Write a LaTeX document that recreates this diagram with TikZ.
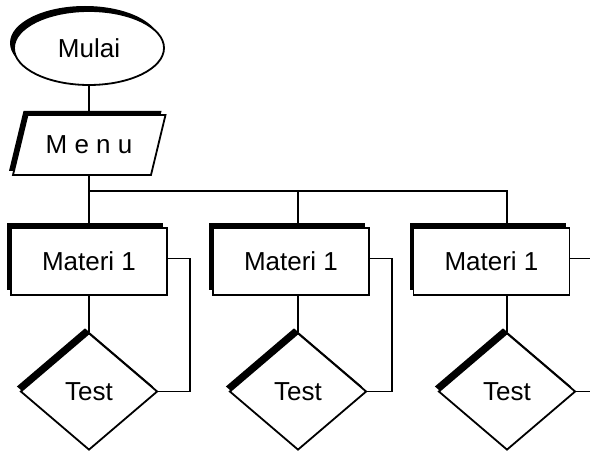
\documentclass[tikz,border=0pt]{standalone}
\usepackage{fontspec}
\setmainfont{Liberation Sans}
\usetikzlibrary{shapes.geometric,shadows}
\begin{document}
\begin{tikzpicture}[x=1pt,y=-1pt,
  line width=1.8pt,
  every node/.style={font=\fontsize{26}{30}\selectfont},
  offshadow/.style={drop shadow={shadow xshift=-4pt,shadow yshift=5pt,opacity=1,fill=black}},
  startend/.style={ellipse,draw,fill=white,offshadow,minimum width=150pt,minimum height=74pt,inner sep=0pt},
  iobody/.style={rectangle,minimum width=138pt,minimum height=60pt,inner sep=0pt},
  process/.style={rectangle,draw,fill=white,offshadow,minimum width=156pt,minimum height=67pt,inner sep=0pt},
  decision/.style={diamond,draw,fill=white,offshadow,minimum width=137pt,minimum height=117pt,inner sep=0pt}
]
\useasboundingbox (0,0) rectangle (590,452);

% slanted input/output outline, drawn before its text node
\fill[black,xshift=-4pt,yshift=4pt]
  (27.5,115) -- (165.5,115) -- (151,175) -- (13,175) -- cycle;
\filldraw[fill=white]
  (27.5,115) -- (165.5,115) -- (151,175) -- (13,175) -- cycle;

% flowchart blocks
\node[startend] (start) at (89,48) {Mulai};
\node[iobody] (menu) at (89,145) {M e n u};
\node[process] (m1) at (89,261.5) {Materi 1};
\node[process] (m2) at (291,261.5) {Materi 1};
\node[process] (m3) at (491.5,261.5) {Materi 1};
\node[decision] (t1) at (89,391.5) {Test};
\node[decision] (t2) at (298,391.5) {Test};
\node[decision] (t3) at (507,391.5) {Test};

% branching bus below the menu
\coordinate (bus) at (89,191);
\draw (start) -- (menu);
\draw (menu.south) -- (m1.north);
\draw (bus) -- (t3.north |- bus) -- (t3.north |- m3.north);
\draw (t2.north |- bus) -- (t2.north |- m2.north);

% material to test
\draw (m1) -- (t1);
\draw (t2.north |- m2.south) -- (t2.north);
\draw (t3.north |- m3.south) -- (t3.north);

% return paths from each test
\draw ([yshift=3pt]m1.east) -- ++(22,0) |- (t1.east);
\draw ([yshift=3pt]m2.east) -- ++(22,0) |- (t2.east);
\draw ([yshift=3pt]m3.east) -- ++(20,0);
\draw (t3.east) -- ++(15,0);
\end{tikzpicture}
\end{document}
